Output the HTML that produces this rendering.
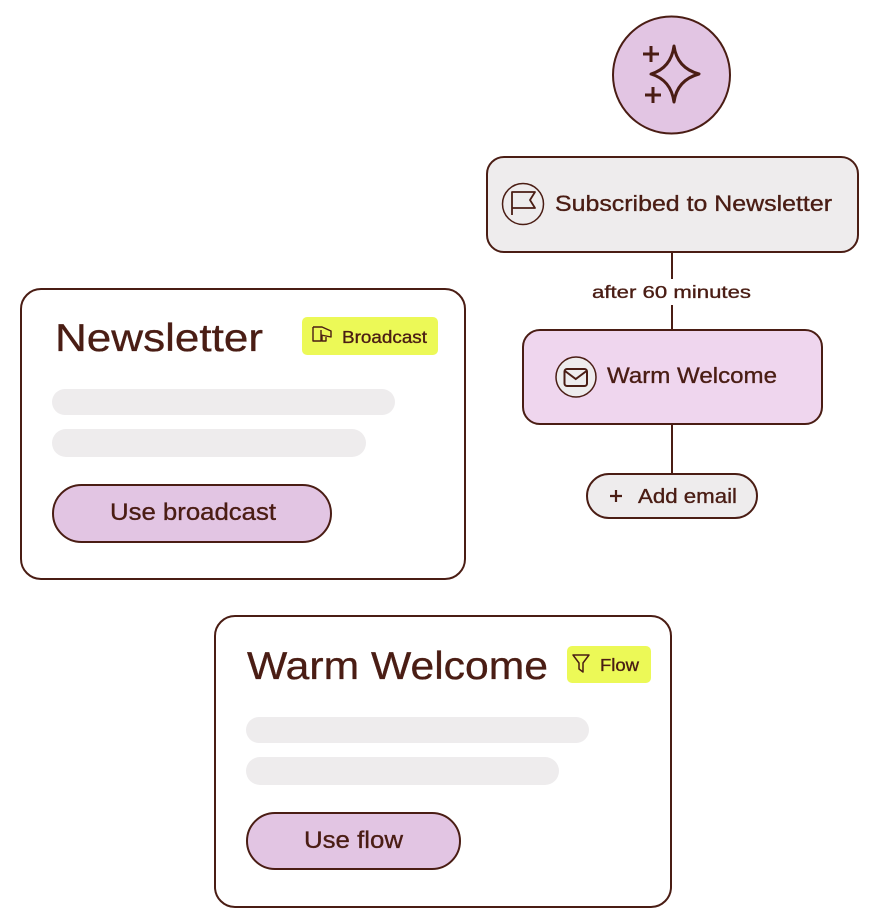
<!DOCTYPE html>
<html><head><meta charset="utf-8"><style>html,body{margin:0;padding:0;background:#fff;}svg{display:block;}text{stroke:#4a1d14;stroke-width:0.35px;}</style></head>
<body>
<svg width="880" height="924" viewBox="0 0 880 924" xmlns="http://www.w3.org/2000/svg" font-family="Liberation Sans, sans-serif" fill="#4a1d14">
<!-- connectors -->
<line x1="672" y1="252" x2="672" y2="279" stroke="#4a1d14" stroke-width="2"/>
<line x1="672" y1="305" x2="672" y2="330" stroke="#4a1d14" stroke-width="2"/>
<line x1="672" y1="424" x2="672" y2="474" stroke="#4a1d14" stroke-width="2"/>
<!-- top circle -->
<circle cx="671.5" cy="75" r="58.5" fill="#e2c5e3" stroke="#4a1d14" stroke-width="2"/>
<path d="M674,46 Q677,68 699,74 Q677,80 674,102 Q671,80 651,74 Q671,68 674,46 Z" fill="none" stroke="#4a1d14" stroke-width="3" stroke-linejoin="round"/>
<path d="M651,46 V62 M643,54 H659 M653,87 V103 M645,95 H661" stroke="#4a1d14" stroke-width="3" fill="none"/>
<!-- Subscribed node -->
<rect x="487" y="157" width="371" height="95" rx="17" fill="#eeeced" stroke="#4a1d14" stroke-width="2"/>
<circle cx="523" cy="204" r="20.5" fill="none" stroke="#4a1d14" stroke-width="1.5"/>
<path d="M512,215 V192 H535 L530,200 L535,208 H512" fill="none" stroke="#4a1d14" stroke-width="1.8" stroke-linejoin="round"/>
<text x="555" y="211" font-size="22.5" textLength="277" lengthAdjust="spacingAndGlyphs">Subscribed to Newsletter</text>
<!-- label -->
<text x="592" y="298" font-size="17.5" textLength="159" lengthAdjust="spacingAndGlyphs">after 60 minutes</text>
<!-- Warm Welcome node -->
<rect x="523" y="330" width="299" height="94" rx="17" fill="#efd6ee" stroke="#4a1d14" stroke-width="2"/>
<circle cx="576" cy="377" r="20" fill="#eeeced" stroke="#4a1d14" stroke-width="1.5"/>
<rect x="564.5" y="369" width="22.5" height="17" rx="2.5" fill="none" stroke="#4a1d14" stroke-width="2"/>
<path d="M565,371 L575.75,379 L586.5,371" fill="none" stroke="#4a1d14" stroke-width="2"/>
<text x="607" y="383" font-size="22.5" textLength="170" lengthAdjust="spacingAndGlyphs">Warm Welcome</text>
<!-- Add email -->
<rect x="587" y="474" width="170" height="44" rx="22" fill="#eeeced" stroke="#4a1d14" stroke-width="2"/>
<path d="M610,496 H622 M616,490 V502" stroke="#4a1d14" stroke-width="2.2" fill="none"/>
<text x="638" y="503" font-size="20.5" textLength="99" lengthAdjust="spacingAndGlyphs">Add email</text>
<!-- Newsletter card -->
<rect x="21" y="289" width="444" height="290" rx="20" fill="#fff" stroke="#4a1d14" stroke-width="2"/>
<text x="55" y="351" font-size="39" textLength="208" lengthAdjust="spacingAndGlyphs">Newsletter</text>
<rect x="302" y="317" width="136" height="38" rx="5" fill="#ecf957"/>
<path d="M313,327 V341 H321 V330 M313,327 H322 L331,331 V337 L321,335 M322,336 V341 H326 V337" fill="none" stroke="#4a1d14" stroke-width="1.4" stroke-linejoin="round"/>
<text x="342" y="343" font-size="17.5" textLength="85" lengthAdjust="spacingAndGlyphs">Broadcast</text>
<rect x="52" y="389" width="343" height="26" rx="13" fill="#eeeced"/>
<rect x="52" y="429" width="314" height="28" rx="14" fill="#eeeced"/>
<rect x="53" y="485" width="278" height="57" rx="28.5" fill="#e2c5e3" stroke="#4a1d14" stroke-width="2"/>
<text x="110" y="520" font-size="24.5" textLength="166" lengthAdjust="spacingAndGlyphs">Use broadcast</text>
<!-- Warm Welcome card -->
<rect x="215" y="616" width="456" height="291" rx="20" fill="#fff" stroke="#4a1d14" stroke-width="2"/>
<text x="247" y="679" font-size="39" textLength="301" lengthAdjust="spacingAndGlyphs">Warm Welcome</text>
<rect x="567" y="646" width="84" height="37" rx="5" fill="#ecf957"/>
<path d="M573,655 H589 L583,663 V672 L579,669 V663 Z" fill="none" stroke="#4a1d14" stroke-width="1.5" stroke-linejoin="round"/>
<text x="600" y="671" font-size="17.5" textLength="39" lengthAdjust="spacingAndGlyphs">Flow</text>
<rect x="246" y="717" width="343" height="26" rx="13" fill="#eeeced"/>
<rect x="246" y="757" width="313" height="28" rx="14" fill="#eeeced"/>
<rect x="247" y="813" width="213" height="56" rx="28" fill="#e2c5e3" stroke="#4a1d14" stroke-width="2"/>
<text x="304" y="848" font-size="24.5" textLength="99" lengthAdjust="spacingAndGlyphs">Use flow</text>
</svg>
</body></html>
